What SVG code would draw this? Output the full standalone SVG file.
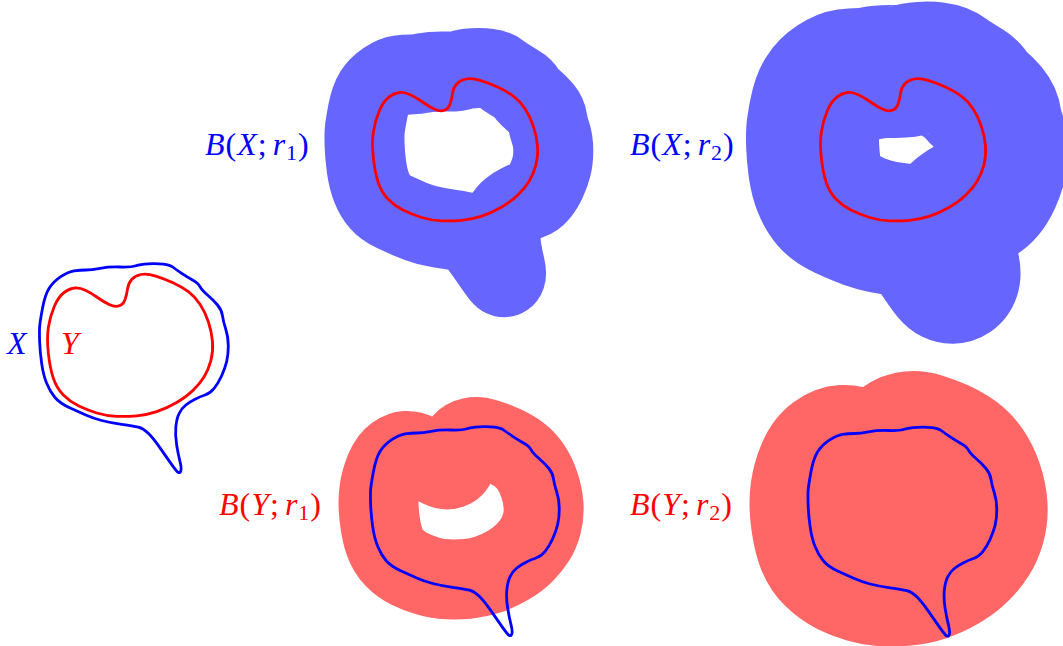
<svg xmlns="http://www.w3.org/2000/svg" xmlns:xlink="http://www.w3.org/1999/xlink" width="1063" height="646" viewBox="0 0 1063 646">
<style>
.cx{fill:none;stroke:#0000ff;stroke-width:2.8;stroke-linejoin:round}
.cy{fill:none;stroke:#ff0000;stroke-width:2.8;stroke-linejoin:round}
.bx{fill:none;stroke:#6666ff;stroke-linejoin:round;stroke-linecap:round}
.by{fill:none;stroke:#ff6666;stroke-linejoin:round;stroke-linecap:round}
.r1{stroke-width:80}
.r2{stroke-width:133}
.lab{font-family:"Liberation Serif","Times New Roman",serif;font-size:32px;letter-spacing:1px}
.i{font-style:italic}
.sub{font-size:22px}
.blue{fill:#0000ff}
.red{fill:#ff0000}
</style>
<defs>
<path id="X" d="M39.65,326.7 Q40,321.7 42.5,308.35 Q45,295 49.15,288.35 Q53.3,281.7 60.8,276.7 Q68.3,271.7 74.15,270.85 Q80,270 85.85,270 Q91.7,270 100,268.35 Q108.3,266.7 120,267 Q131.7,267.3 135.85,265.8 Q140,264.3 148.35,263.8 Q156.7,263.3 163.35,264.15 Q170,265 173.35,267.5 Q176.7,270 181.7,273.35 Q186.7,276.7 192.5,280 Q198.3,283.3 200,286.65 Q201.7,290 207.5,295 Q213.3,300 217.5,305 Q221.7,310 222.5,315.85 Q223.3,321.7 225.8,329.2 Q228.3,336.7 228.3,345.85 Q228.3,355 226.65,361.65 Q225,368.3 221.65,375.8 Q218.3,383.3 214.15,388.3 Q210,393.3 205,395 Q200,396.7 195,399.2 Q190,401.7 185.85,405 Q181.7,408.3 179.2,413.3 Q176.7,418.3 175.85,426.65 Q175,435 176.65,445 Q178.3,455 180,461.65 Q181.7,468.3 180.85,470.8 Q180,473.3 178.35,472.5 Q176.7,471.7 170.85,463.35 Q165,455 159.15,446.65 Q153.3,438.3 148.3,433.3 Q143.3,428.3 138.3,427.15 Q133.3,426 121.65,424.35 Q110,422.7 101.65,420.5 Q93.3,418.3 85.8,415 Q78.3,411.7 69.15,407.5 Q60,403.3 55,397.5 Q50,391.7 46.65,383.35 Q43.3,375 41.65,363.35 Q40,351.7 39.65,341.7 Q39.3,331.7 39.65,326.7 Z"/>
<path id="Y" d="M48.35,353.3 Q46.7,338.3 48.35,327.5 Q50,316.7 54.15,306.7 Q58.3,296.7 64.15,292.5 Q70,288.3 75,288 Q80,287.7 85.85,290.5 Q91.7,293.3 97.5,297.5 Q103.3,301.7 109.15,304.5 Q115,307.3 119.15,305.8 Q123.3,304.3 125,299.65 Q126.7,295 127.5,289.15 Q128.3,283.3 131.65,279.5 Q135,275.7 140.85,274.5 Q146.7,273.3 155,275.8 Q163.3,278.3 172.5,282.5 Q181.7,286.7 188.35,291.7 Q195,296.7 200,304.2 Q205,311.7 208.35,321.7 Q211.7,331.7 212.5,341.7 Q213.3,351.7 210.8,360.85 Q208.3,370 204.15,376.65 Q200,383.3 193.35,390 Q186.7,396.7 176.7,402.5 Q166.7,408.3 156.7,411.65 Q146.7,415 136.7,415.85 Q126.7,416.7 116.7,416.35 Q106.7,416 96.7,413 Q86.7,410 78.35,405.85 Q70,401.7 63.35,395 Q56.7,388.3 53.35,378.3 Q50,368.3 48.35,353.3 Z"/>
</defs>
<rect width="1063" height="646" fill="#ffffff"/>

<g id="sets-XY">
<use xlink:href="#X" href="#X" class="cx"/>
<use xlink:href="#Y" href="#Y" class="cy"/>
<text class="lab blue i" x="7" y="354">X</text>
<text class="lab red i" x="61" y="354">Y</text>
</g>

<g id="BX-r1">
<g transform="translate(325,-195.5)">
<use xlink:href="#X" href="#X" class="bx r1"/>
<use xlink:href="#Y" href="#Y" class="cy"/>
</g>
<text class="lab blue" x="205" y="155"><tspan class="i">B</tspan>(<tspan class="i">X</tspan>;<tspan class="i" dx="5">r</tspan><tspan class="sub" dy="5">1</tspan><tspan dy="-5">)</tspan></text>
</g>

<g id="BX-r2">
<g transform="translate(773,-195.5)">
<use xlink:href="#X" href="#X" class="bx r2"/>
<use xlink:href="#Y" href="#Y" class="cy"/>
</g>
<text class="lab blue" x="630" y="155"><tspan class="i">B</tspan>(<tspan class="i">X</tspan>;<tspan class="i" dx="5">r</tspan><tspan class="sub" dy="5">2</tspan><tspan dy="-5">)</tspan></text>
</g>

<g id="BY-r1">
<g transform="translate(331,163)">
<use xlink:href="#Y" href="#Y" class="by r1"/>
<use xlink:href="#X" href="#X" class="cx"/>
</g>
<text class="lab red" x="219" y="515"><tspan class="i">B</tspan>(<tspan class="i">Y</tspan>;<tspan class="i" dx="5">r</tspan><tspan class="sub" dy="5">1</tspan><tspan dy="-5">)</tspan></text>
</g>

<g id="BY-r2">
<g transform="translate(768.5,163.5)">
<use xlink:href="#Y" href="#Y" class="by r2"/>
<use xlink:href="#X" href="#X" class="cx"/>
</g>
<text class="lab red" x="630" y="515"><tspan class="i">B</tspan>(<tspan class="i">Y</tspan>;<tspan class="i" dx="5">r</tspan><tspan class="sub" dy="5">2</tspan><tspan dy="-5">)</tspan></text>
</g>

<g id="connectors"/>
</svg>
